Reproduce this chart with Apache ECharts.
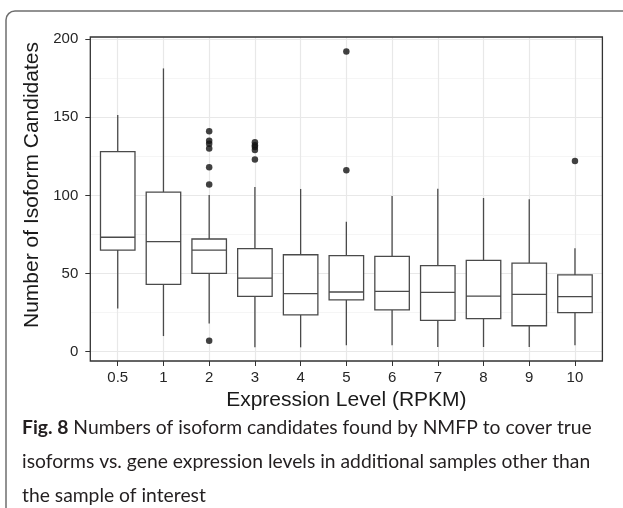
<!DOCTYPE html>
<html>
<head>
<meta charset="utf-8">
<script src="https://cdn.jsdelivr.net/npm/echarts@6/dist/echarts.min.js"></script>
<style>html,body{margin:0;padding:0;background:#fff}#chart{width:623px;height:508px}</style>
</head>
<body>
<div id="chart"></div>
<script>
// ---- data ----
const categories = ['0.5', '1', '2', '3', '4', '5', '6', '7', '8', '9', '10'];
const whiskerLow  = [27.7, 10.0, 18.1, 2.8, 2.8, 4.1, 4.1, 3.0, 3.0, 3.0, 4.1];
const q1          = [65.0, 43.1, 50.1, 35.4, 23.5, 33.1, 26.7, 20.1, 21.1, 16.6, 25.0];
const median      = [73.2, 70.4, 65.0, 47.1, 37.1, 38.2, 38.6, 38.0, 35.6, 36.7, 35.2];
const q3          = [128.0, 102.1, 72.1, 65.9, 62.0, 61.4, 61.0, 55.0, 58.4, 56.7, 49.1];
const whiskerHigh = [151.4, 181.2, 100.2, 105.3, 104.1, 83.2, 99.6, 104.3, 98.3, 97.5, 66.1];
const outlierCategory = ['2', '2', '2', '2', '2', '2', '2', '3', '3', '3', '3', '3', '5', '5', '10'];
const outlierValue    = [141, 135, 133, 130, 118, 107, 7, 134, 132, 131, 129, 123, 192, 116, 122];
const yTickValues = [0, 50, 100, 150, 200];
const xTickValues = categories.map((c, i) => i);

const xTitle = 'Expression Level (RPKM)';
const yTitle = 'Number of Isoform Candidates';
const captionLines = [
  '{b|Fig. 8} Numbers of isoform candidates found by NMFP to cover true',
  'isoforms vs. gene expression levels in additional samples other than',
  'the sample of interest'
];

// ---- layout ----
const G = { left: 90.3, top: 37, width: 512.1, height: 324 };
const yMin = -5.95, yMax = 201.3;
const xMin = -0.6, xMax = 10.6;

const boxData = categories.map((c, i) => [i, q1[i], q1[i], median[i], q3[i], q3[i]]);
const whiskerData = categories.map((c, i) => [i, whiskerLow[i], q1[i], q3[i], whiskerHigh[i]]);
const outlierData = outlierCategory.map((c, k) => [categories.indexOf(c), outlierValue[k]]);

const lineCol = '#4a4a4a';
const chart = echarts.init(document.getElementById('chart'), null, { renderer: 'canvas' });
chart.setOption({
  animation: false,
  backgroundColor: '#fff',
  textStyle: { fontFamily: 'Liberation Sans' },
  title: {
    left: 22, top: 411, padding: 0,
    text: captionLines.join('\n'),
    textStyle: {
      fontFamily: 'Lato', fontSize: 19.3, fontWeight: 'normal', color: '#231f20', lineHeight: 34,
      rich: { b: { fontFamily: 'Lato', fontSize: 19.3, fontWeight: 'bold', color: '#231f20', lineHeight: 34 } }
    }
  },
  grid: { left: G.left, top: G.top, width: G.width, height: G.height, show: false, containLabel: false },
  xAxis: [{
    type: 'value', min: xMin, max: xMax, splitNumber: 11, minInterval: 1, maxInterval: 1,
    axisLine: { show: false, onZero: false },
    axisTick: { show: true, customValues: xTickValues, length: 5, lineStyle: { color: '#333', width: 1 } },
    axisLabel: {
      customValues: xTickValues, margin: 9, fontSize: 15, color: '#262626',
      formatter: v => (Number.isInteger(v) && categories[v] !== undefined) ? categories[v] : ''
    },
    splitLine: { show: true, lineStyle: { color: '#e8e8e8', width: 1.2 } },
    name: xTitle, nameLocation: 'middle', nameGap: 23,
    nameTextStyle: { fontSize: 21, color: '#1a1a1a' }
  }],
  yAxis: [{
    type: 'value', min: yMin, max: yMax, splitNumber: 4, minInterval: 50, maxInterval: 50,
    axisLine: { show: false, onZero: false },
    axisTick: { show: true, customValues: yTickValues, length: 5, lineStyle: { color: '#333', width: 1 } },
    axisLabel: {
      customValues: yTickValues, margin: 12, fontSize: 15, color: '#262626',
      formatter: v => (yTickValues.indexOf(v) >= 0 ? String(v) : '')
    },
    splitLine: { show: true, lineStyle: { color: '#e8e8e8', width: 1.2 } },
    name: yTitle, nameLocation: 'middle', nameGap: 41,
    nameTextStyle: { fontSize: 21, color: '#1a1a1a', padding: [0, 0, 0, 28] }
  }, {
    // minor grid lines (values shifted by half a step so ticks fall on 25, 75, ...)
    type: 'value', min: yMin + 25, max: yMax + 25, splitNumber: 4, minInterval: 50, maxInterval: 50,
    position: 'left',
    axisLine: { show: false, onZero: false }, axisTick: { show: false }, axisLabel: { show: false },
    splitLine: { show: true, lineStyle: { color: '#f3f3f3', width: 0.8 } }
  }],
  graphic: [
    { type: 'rect', z: 100, silent: true,
      shape: { x: G.left, y: G.top, width: G.width, height: G.height },
      style: { fill: 'none', stroke: '#333', lineWidth: 1.3 } },
    { type: 'rect', z: 100, silent: true,
      shape: { x: 6, y: 11, width: 700, height: 600, r: 9 },
      style: { fill: 'none', stroke: '#6f6f6f', lineWidth: 1.5 } }
  ],
  series: [{
    type: 'custom', name: 'whiskers', xAxisIndex: 0, yAxisIndex: 0, z: 2, silent: true,
    encode: { x: 0, y: [1, 2, 3, 4] },
    data: whiskerData,
    renderItem: (params, api) => {
      const x = api.value(0);
      const a = api.coord([x, api.value(1)]), b = api.coord([x, api.value(2)]);
      const c = api.coord([x, api.value(3)]), d = api.coord([x, api.value(4)]);
      const st = { stroke: lineCol, lineWidth: 1.3 };
      return { type: 'group', children: [
        { type: 'line', shape: { x1: a[0], y1: a[1], x2: b[0], y2: b[1] }, style: st },
        { type: 'line', shape: { x1: c[0], y1: c[1], x2: d[0], y2: d[1] }, style: st }
      ] };
    }
  }, {
    type: 'boxplot', name: 'boxes', xAxisIndex: 0, yAxisIndex: 0, z: 3, silent: true,
    boxWidth: [34.5, 34.5],
    itemStyle: { color: '#fff', borderColor: lineCol, borderWidth: 1.3 },
    emphasis: { disabled: true },
    data: boxData
  }, {
    type: 'scatter', name: 'outliers', xAxisIndex: 0, yAxisIndex: 0, z: 4, silent: true,
    symbol: 'circle', symbolSize: 6.5,
    itemStyle: { color: '#111' },
    data: outlierData
  }]
});
</script>
</body>
</html>
